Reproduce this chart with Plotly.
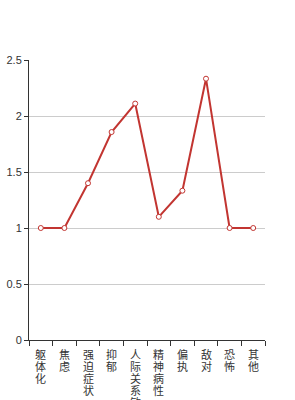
import plotly.graph_objects as go

categories = ["躯体化", "焦虑", "强迫症状", "抑郁", "人际关系敏感", "精神病性", "偏执", "敌对", "恐怖", "其他"]
values = [1.0, 1.0, 1.4, 1.857, 2.111, 1.1, 1.333, 2.333, 1.0, 1.0]
y_ticks = [0, 0.5, 1, 1.5, 2, 2.5]
y_tick_text = ["0", "0.5", "1", "1.5", "2", "2.5"]

fig = go.Figure()
fig.add_trace(go.Scatter(
    x=categories, y=values, mode="lines+markers",
    line=dict(color="#c23531", width=2),
    marker=dict(size=5, color="white", line=dict(color="#c23531", width=1)),
    hoverinfo="x+y",
))

# vertical category labels, one character per line (tight line spacing)
for c in categories:
    for i, ch in enumerate(c):
        fig.add_annotation(
            x=c, y=0, xref="x", yref="y", text=ch, showarrow=False,
            yanchor="top", xanchor="center", yshift=-(5 + 12 * i),
            font=dict(size=11, color="#333", family="Noto Sans CJK SC, sans-serif"),
            borderpad=0,
        )

fig.update_layout(
    width=295, height=400,
    margin=dict(l=29, r=30, t=60, b=60),
    paper_bgcolor="white", plot_bgcolor="white",
    showlegend=False,
    font=dict(family="Noto Sans CJK SC, sans-serif", size=11, color="#333"),
    xaxis=dict(
        type="category", automargin=False,
        tickmode="array", tickvals=categories, showticklabels=False,
        tickson="boundaries", ticks="outside", ticklen=5, tickcolor="#333",
        showline=True, linecolor="#333", linewidth=1,
        showgrid=False,
        range=[-0.5, 9.5],
    ),
    yaxis=dict(
        range=[0, 2.5], automargin=False,
        tickmode="array", tickvals=y_ticks, ticktext=y_tick_text,
        showline=True, linecolor="#333", linewidth=1,
        showgrid=True, gridcolor="#ccc", gridwidth=1,
        zeroline=False, ticks="outside", ticklen=4, tickcolor="#333",
        tickfont=dict(size=11, color="#333", family="Liberation Sans, Arial, sans-serif"),
    ),
)
fig.write_html("out.html")
